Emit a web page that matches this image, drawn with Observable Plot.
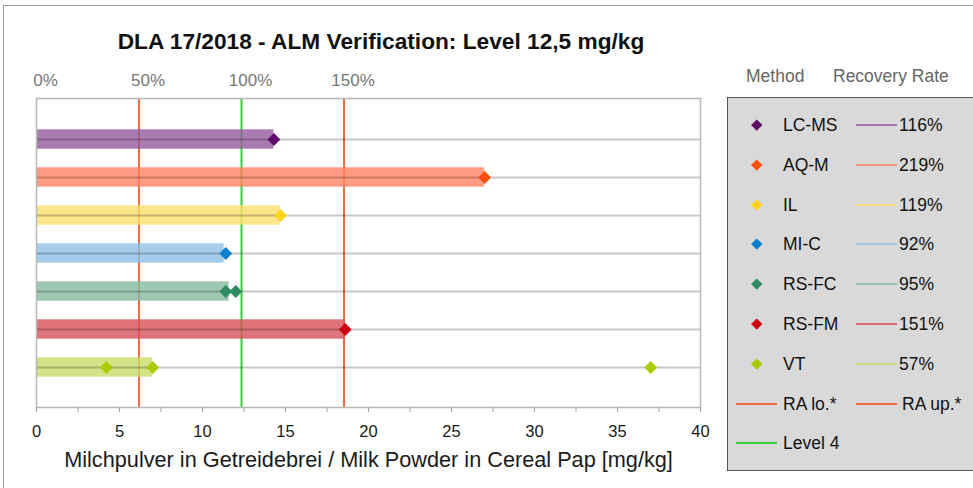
<!DOCTYPE html>
<html>
<head>
<meta charset="utf-8">
<script src="https://cdn.jsdelivr.net/npm/d3@7"></script>
<script src="https://cdn.jsdelivr.net/npm/@observablehq/plot@0.6"></script>
<style>
  html, body { margin: 0; padding: 0; background: #fff; }
  body { width: 973px; height: 488px; overflow: hidden; font-family: "Liberation Sans", Arial, sans-serif; }
  #wrap { position: relative; width: 973px; height: 488px; }
  #outer { position: absolute; left: 3px; top: 5px; width: 1000px; height: 600px; border: 1px solid #9a9a9a; }
  #title { position: absolute; left: 0; top: 28px; width: 762px; text-align: center; font-weight: bold; font-size: 22.7px; color: #111; }
  #chart { position: absolute; left: 0; top: 0; }
  #legend { position: absolute; left: 727px; top: 97px; width: 260px; height: 374px; background: #d9d9d9; border: 1px solid #555; box-sizing: border-box; }
  .hdr { position: absolute; top: 66px; font-size: 17.5px; color: #666; }
  .lg { position: absolute; font-size: 17.5px; color: #111; line-height: 20px; }
  .ln { position: absolute; height: 2px; width: 41px; }
  .dm { position: absolute; width: 7.5px; height: 7.5px; transform: rotate(45deg); }
</style>
</head>
<body>
<div id="wrap">
  <div id="outer"></div>
  <div id="chart"></div>
  <div id="title"></div>
  <div class="hdr" id="h1" style="left:746px"></div>
  <div class="hdr" id="h2" style="left:833px"></div>
  <div id="legend"></div>
</div>
<script>
const titleText = "DLA 17/2018 - ALM Verification: Level 12,5 mg/kg";
const xAxisTitle = "Milchpulver in Getreidebrei / Milk Powder in Cereal Pap [mg/kg]";
const legendHeaders = ["Method", "Recovery Rate"];

const methods = ["LC-MS", "AQ-M", "IL", "MI-C", "RS-FC", "RS-FM", "VT"];
const recovery = [116, 219, 119, 92, 95, 151, 57];
const barValues = [14.3, 27.0, 14.7, 11.3, 11.6, 18.6, 7.0];
const markerColors = ["#5e0a66", "#ff4f0f", "#ffd31a", "#0d7fd1", "#2e8b5e", "#cc0010", "#a8cc00"];
const barColors = ["#945a9c", "#ff8263", "#fce06d", "#8cc0e5", "#85bb9f", "#d85058", "#c8dc69"];

const pointMethods = ["LC-MS", "AQ-M", "IL", "MI-C", "RS-FC", "RS-FC", "RS-FM", "VT", "VT", "VT"];
const pointValues = [14.3, 27.0, 14.7, 11.4, 11.4, 12.0, 18.6, 4.2, 7.0, 37.0];

const level = 12.35;
const refLabels = ["RA lo.*", "RA up.*", "Level 4"];
const refPercents = [50, 150, 100];
const refColors = ["#f26b3f", "#f26b3f", "#3ccc3c"];

const pctTicks = [0, 50, 100, 150];
const xMajorTicks = [0, 5, 10, 15, 20, 25, 30, 35, 40];
const xMinorTicks = [2.5, 7.5, 12.5, 17.5, 22.5, 27.5, 32.5, 37.5];

const colorOf = Object.fromEntries(methods.map((m, i) => [m, markerColors[i]]));
const bars = methods.map((m, i) => ({method: m, value: barValues[i], color: barColors[i]}));
const points = pointMethods.map((m, i) => ({method: m, value: pointValues[i], color: colorOf[m]}));
const refs = refLabels.map((l, i) => ({label: l, value: level * refPercents[i] / 100, color: refColors[i]}));

const font = "'Liberation Sans', Arial, sans-serif";

const chart = Plot.plot({
  width: 973,
  height: 488,
  marginLeft: 36,
  marginRight: 273,
  marginTop: 98,
  marginBottom: 81,
  style: {fontFamily: font, background: "transparent"},
  x: {domain: [0, 40]},
  y: {domain: methods, paddingInner: 0, paddingOuter: 0.5, axis: null},
  color: {type: "identity"},
  marks: [
    Plot.ruleX(refs, {x: "value", stroke: "color", strokeWidth: 2}),
    Plot.barX(bars, {x1: 0, x2: "value", y: "method", fill: "color", fillOpacity: 0.8, insetTop: 9.3, insetBottom: 9.3}),
    Plot.ruleY(methods, {y: d => d, x1: 0, x2: 40, stroke: "#000", strokeOpacity: 0.22, strokeWidth: 2}),
    Plot.frame({stroke: "#b8b8b8", strokeWidth: 1.5}),
    Plot.dot(points, {x: "value", y: "method", symbol: "diamond2", r: 5.8, fill: "color", stroke: "none"}),
    Plot.axisX(xMinorTicks, {anchor: "bottom", tickSize: 5, stroke: "#a0a0a0", tickFormat: () => "", label: null}),
    Plot.axisX(xMajorTicks, {anchor: "bottom", tickSize: 5, tickPadding: 13, stroke: "#a0a0a0", fill: "#1a1a1a", fontSize: 16.5, tickFormat: d => String(d), label: null}),
    Plot.axisX(pctTicks.map(p => level * p / 100), {anchor: "top", tickSize: 0, tickPadding: 13, dx: 9, fill: "#777", fontSize: 17, tickFormat: (d, i) => pctTicks[i] + "%", label: null}),
    Plot.text([xAxisTitle], {frameAnchor: "bottom", text: d => d, dy: 59, fontSize: 21.7, fill: "#1a1a1a", fontFamily: font})
  ]
});
document.getElementById("chart").appendChild(chart);

document.getElementById("title").textContent = titleText;
document.getElementById("h1").textContent = legendHeaders[0];
document.getElementById("h2").textContent = legendHeaders[1];

const wrap = document.getElementById("wrap");
function add(cls, style, text) {
  const el = document.createElement("div");
  el.className = cls;
  Object.assign(el.style, style);
  if (text != null) el.textContent = text;
  wrap.appendChild(el);
  return el;
}
const rowY0 = 125, rowStep = 39.8;
methods.forEach((m, i) => {
  const cy = Math.round(rowY0 + i * rowStep);
  add("dm", {left: (757 - 3.75) + "px", top: (cy - 3.75) + "px", background: markerColors[i]});
  add("lg", {left: "783px", top: (cy - 10) + "px"}, m);
  add("ln", {left: "856px", top: (cy - 1) + "px", background: barColors[i], opacity: 0.8});
  add("lg", {left: "899px", top: (cy - 10) + "px"}, recovery[i] + "%");
});
{
  const cy = Math.round(rowY0 + 7 * rowStep);
  add("ln", {left: "736px", top: (cy - 1) + "px", background: refColors[0]});
  add("lg", {left: "783px", top: (cy - 10) + "px"}, refLabels[0]);
  add("ln", {left: "856px", top: (cy - 1) + "px", background: refColors[1]});
  add("lg", {left: "902px", top: (cy - 10) + "px"}, refLabels[1]);
  const cy2 = Math.round(rowY0 + 8 * rowStep);
  add("ln", {left: "736px", top: (cy2 - 1) + "px", background: refColors[2]});
  add("lg", {left: "783px", top: (cy2 - 10) + "px"}, refLabels[2]);
}
</script>
</body>
</html>
